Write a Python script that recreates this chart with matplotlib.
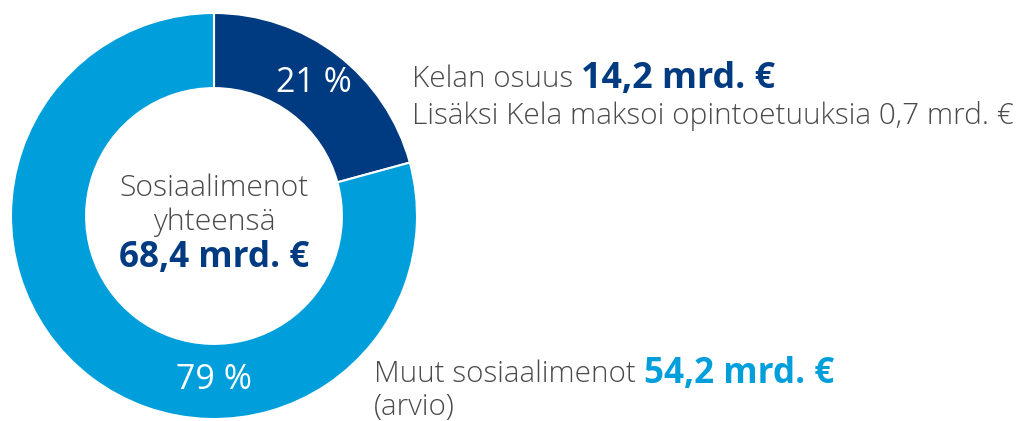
import matplotlib
matplotlib.use("Agg")
import matplotlib.pyplot as plt

plt.rcParams['font.family'] = ['Open Sans', 'DejaVu Sans']

# data
osat = ["Kelan osuus", "Muut sosiaalimenot"]
arvot = [14.2, 54.2]
yhteensa = 68.4
varit = ["#003a80", "#009fdb"]
harmaa = "#4a4a4a"

W, H = 1016, 421
fig = plt.figure(figsize=(W / 100, H / 100), dpi=100)

# donut axes: center ~ (214, 216), radius ~ 203 px
cx, cy, r = 214, 216, 203
ax = fig.add_axes([(cx - r) / W, (H - cy - r) / H, 2 * r / W, 2 * r / H])
wedges, _ = ax.pie(arvot, colors=varit, startangle=90, counterclock=False,
                   wedgeprops=dict(width=0.37, edgecolor="white", linewidth=1.5),
                   radius=1.0)
ax.set_xlim(-1, 1)
ax.set_ylim(-1, 1)
ax.set_aspect("equal")
ax.axis("off")

# percent labels in the ring
pros = [round(v / yhteensa * 100) for v in arvot]
ax.text(0.49, 0.655, f"{pros[0]} %", color="white", fontsize=24.5, ha="center", va="center")
ax.text(0.0, -0.81, f"{pros[1]} %", color="white", fontsize=24.5, ha="center", va="center")

# center texts
ax.text(0.0, 0.135, "Sosiaalimenot", color=harmaa, fontsize=21.7, ha="center", va="center", fontweight="light")
ax.text(0.0, -0.03, "yhteensä", color=harmaa, fontsize=21.7, ha="center", va="center", fontweight="light")
ax.text(0.0, -0.205, f"{yhteensa:.1f}".replace(".", ",") + " mrd. €", color=varit[0],
        fontsize=25.2, ha="center", va="center", fontweight="bold")

fig.canvas.draw()
rend = fig.canvas.get_renderer()


def kaksiosainen(x, y, eka, toka, vari, koko=21.3, koko2=25.5):
    t = fig.text(x / W, 1 - y / H, eka + " ", color=harmaa, fontsize=koko, va="center", fontweight="light")
    bb = t.get_window_extent(renderer=rend)
    fig.text(bb.x1 / W, 1 - y / H, toka, color=vari, fontsize=koko2, va="center", fontweight="bold")


arvo_txt = [f"{v:.1f}".replace(".", ",") + " mrd. €" for v in arvot]
kaksiosainen(412, 79, "Kelan osuus", arvo_txt[0], varit[0], koko2=25.8)
fig.text(412 / W, 1 - 116 / H, "Lisäksi Kela maksoi opintoetuuksia 0,7 mrd. €", color=harmaa,
         fontsize=21.4, va="center", fontweight="light")
kaksiosainen(374, 374, "Muut sosiaalimenot", arvo_txt[1], varit[1], koko2=25.2)
fig.text(374 / W, 1 - 407 / H, "(arvio)", color=harmaa, fontsize=21.3, va="center", fontweight="light")

fig.savefig("out.png", dpi=100, facecolor="white")
